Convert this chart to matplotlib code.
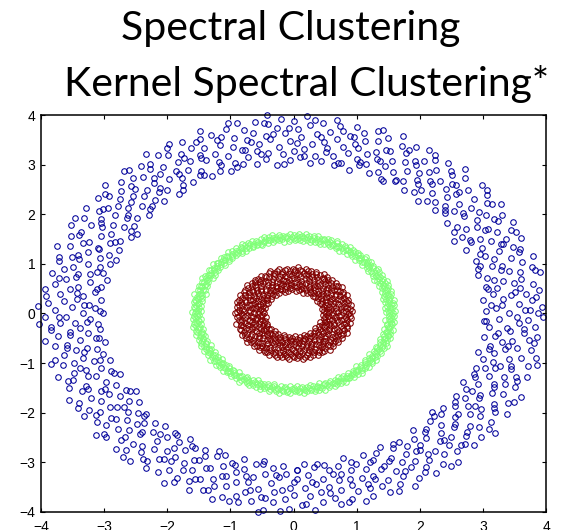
import numpy as np
import matplotlib
matplotlib.use("Agg")
import matplotlib.pyplot as plt

# --- data: (angle in degrees, radius) ---
outer_ring = [
    (0,3.42),(0,3.87),(1,3.05),(1,3.66),(2,3.21),(2,3.94),(3,3.13),(3,3.58),(4,3.79),(5,3.33),(5,3.01),(6,3.71),(6,3.47),(7,3.92),(7,3.18),(8,3.62),(9,3.27),(9,3.84),(10,3.09),(10,3.55),
    (11,3.38),(12,3.99),(12,3.24),(13,3.68),(13,3.15),(14,3.51),(14,3.89),(15,3.03),(16,3.44),(16,3.76),(17,3.29),(17,3.97),(18,3.11),(18,3.63),(19,3.36),(20,3.81),(20,3.07),(21,3.49),(21,3.73),(22,3.19),
    (23,3.57),(23,3.91),(24,3.26),(24,3.69),(25,3.02),(25,3.45),(26,3.83),(27,3.31),(27,3.61),(28,3.16),(28,3.93),(29,3.52),(30,3.74),(30,3.08),(31,3.39),(31,3.86),(32,3.22),(33,3.64),(33,3.47),(34,3.96),
    (34,3.12),(35,3.58),(36,3.34),(36,3.78),(37,3.04),(37,3.53),(38,3.88),(39,3.27),(39,3.67),(40,3.14),(40,3.43),(41,3.95),(42,3.23),(42,3.72),(43,3.06),(43,3.59),(44,3.37),(45,3.85),(45,3.17),(46,3.62),
    (46,3.48),(47,3.98),(48,3.28),(48,3.75),(49,3.01),(49,3.54),(50,3.41),(51,3.89),(51,3.21),(52,3.66),(52,3.1),(53,3.57),(54,3.33),(54,3.82),(55,3.05),(55,3.46),(56,3.71),(57,3.19),(57,3.94),(58,3.39),
    (58,3.63),(59,3.12),(60,3.52),(60,3.87),(61,3.25),(61,3.69),(62,3.03),(63,3.44),(63,3.79),(64,3.3),(64,3.97),(65,3.15),(66,3.6),(66,3.36),(67,3.84),(67,3.08),(68,3.5),(69,3.73),(69,3.22),(70,3.92),
    (70,3.41),(71,3.17),(72,3.65),(72,3.28),(73,3.81),(73,3.02),(74,3.55),(75,3.35),(75,3.9),(76,3.13),(76,3.68),(77,3.45),(78,3.77),(78,3.06),(79,3.58),(79,3.24),(80,3.96),(81,3.38),(81,3.7),(82,3.11),
    (82,3.49),(83,3.86),(84,3.2),(84,3.63),(85,3.04),(85,3.43),(86,3.8),(87,3.31),(87,3.99),(88,3.16),(88,3.56),(89,3.72),(90,3.27),(90,3.88),(91,3.09),(91,3.47),(92,3.64),(93,3.21),(93,3.93),(94,3.37),
    (94,3.75),(95,3.01),(96,3.53),(96,3.84),(97,3.26),(97,3.61),(98,3.14),(99,3.46),(99,3.91),(100,3.32),(100,3.69),(101,3.07),(102,3.57),(102,3.78),(103,3.23),(103,3.95),(104,3.4),(105,3.12),(105,3.66),(106,3.5),
    (106,3.87),(107,3.18),(108,3.74),(108,3.34),(109,3.03),(109,3.59),(110,3.82),(111,3.28),(111,3.45),(112,3.97),(112,3.1),(113,3.62),(114,3.39),(114,3.79),(115,3.05),(115,3.52),(116,3.71),(117,3.22),(117,3.89),(118,3.15),
    (118,3.48),(119,3.67),(120,3.33),(120,3.94),(121,3.08),(121,3.56),(122,3.76),(123,3.25),(123,3.43),(124,3.85),(124,3.13),(125,3.6),(126,3.36),(126,3.98),(127,3.02),(127,3.51),(128,3.7),(129,3.19),(129,3.83),(130,3.44),
    (130,3.29),(131,3.64),(132,3.06),(132,3.9),(133,3.41),(133,3.73),(134,3.17),(135,3.55),(135,3.35),(136,3.81),(136,3.11),(137,3.47),(138,3.68),(138,3.24),(139,3.96),(139,3.04),(140,3.58),(141,3.38),(141,3.77),(142,3.14),
    (142,3.52),(143,3.88),(144,3.27),(144,3.63),(145,3.09),(145,3.45),(146,3.71),(147,3.2),(147,3.92),(148,3.37),(148,3.59),(149,3.01),(150,3.5),(150,3.84),(151,3.31),(151,3.66),(152,3.12),(153,3.43),(153,3.95),(154,3.23),
    (154,3.75),(155,3.05),(156,3.54),(156,3.86),(157,3.34),(157,3.62),(158,3.16),(159,3.48),(159,3.79),(160,3.26),(160,3.99),(161,3.07),(162,3.57),(162,3.69),(163,3.21),(163,3.4),(164,3.87),(165,3.13),(165,3.61),(166,3.32),
    (166,3.74),(167,3.03),(168,3.53),(168,3.91),(169,3.29),(169,3.67),(170,3.1),(171,3.46),(171,3.82),(172,3.18),(172,3.58),(173,3.97),(174,3.36),(174,3.72),(175,3.06),(175,3.44),(176,3.64),(177,3.25),(177,3.89),(178,3.15),
    (178,3.51),(179,3.78),(180,3.33),(180,3.02),(181,3.6),(181,3.93),(182,3.22),(183,3.47),(183,3.7),(184,3.11),(184,3.85),(185,3.39),(186,3.56),(186,3.08),(187,3.76),(187,3.28),(188,3.98),(189,3.42),(189,3.17),(190,3.65),
    (190,3.83),(191,3.04),(192,3.52),(192,3.35),(193,3.73),(193,3.2),(194,3.9),(195,3.45),(195,3.13),(196,3.61),(196,3.8),(197,3.3),(198,3.05),(198,3.55),(199,3.68),(199,3.94),(200,3.24),(201,3.49),(201,3.75),(202,3.12),
    (202,3.38),(203,3.86),(204,3.59),(204,3.01),(205,3.27),(205,3.7),(206,3.96),(207,3.43),(207,3.16),(208,3.63),(208,3.84),(209,3.34),(210,3.07),(210,3.53),(211,3.78),(211,3.21),(212,3.91),(213,3.46),(213,3.66),(214,3.14),
    (214,3.37),(215,3.81),(216,3.57),(216,3.02),(217,3.29),(217,3.72),(218,3.97),(219,3.4),(219,3.18),(220,3.62),(220,3.87),(221,3.09),(222,3.5),(222,3.33),(223,3.74),(223,3.23),(224,3.92),(225,3.44),(225,3.11),(226,3.67),
    (226,3.82),(227,3.26),(228,3.04),(228,3.58),(229,3.69),(229,3.95),(230,3.36),(231,3.19),(231,3.51),(232,3.77),(232,3.06),(233,3.89),(234,3.42),(234,3.63),(235,3.15),(235,3.31),(236,3.85),(237,3.55),(237,3.02),(238,3.25),
    (238,3.71),(239,3.98),(240,3.47),(240,3.13),(241,3.6),(241,3.8),(242,3.35),(243,3.08),(243,3.54),(244,3.76),(244,3.2),(245,3.93),(246,3.41),(246,3.65),(247,3.12),(247,3.38),(248,3.83),(249,3.57),(249,3.05),(250,3.28),
    (250,3.7),(251,3.96),(252,3.45),(252,3.17),(253,3.64),(253,3.86),(254,3.32),(255,3.03),(255,3.52),(256,3.79),(256,3.22),(257,3.9),(258,3.48),(258,3.68),(259,3.1),(259,3.36),(260,3.84),(261,3.59),(261,3.01),(262,3.27),
    (262,3.73),(263,3.99),(264,3.43),(264,3.14),(265,3.61),(265,3.81),(266,3.3),(267,3.07),(267,3.56),(268,3.75),(268,3.24),(269,3.94),(270,3.4),(270,3.66),(271,3.16),(271,3.33),(272,3.87),(273,3.53),(273,3.04),(274,3.26),
    (274,3.69),(275,3.97),(276,3.46),(276,3.12),(277,3.62),(277,3.82),(278,3.37),(279,3.09),(279,3.55),(280,3.77),(280,3.21),(281,3.92),(282,3.44),(282,3.64),(283,3.15),(283,3.31),(284,3.85),(285,3.58),(285,3.02),(286,3.28),
    (286,3.72),(287,3.95),(288,3.49),(288,3.18),(289,3.63),(289,3.88),(290,3.34),(291,3.06),(291,3.51),(292,3.76),(292,3.23),(293,3.91),(294,3.42),(294,3.67),(295,3.11),(295,3.39),(296,3.83),(297,3.57),(297,3.03),(298,3.29),
    (298,3.71),(299,3.98),(300,3.45),(300,3.14),(301,3.6),(301,3.86),(302,3.35),(303,3.08),(303,3.54),(304,3.74),(304,3.22),(305,3.93),(306,3.41),(306,3.65),(307,3.17),(307,3.32),(308,3.84),(309,3.56),(309,3.01),(310,3.27),
    (310,3.7),(311,3.96),(312,3.47),(312,3.13),(313,3.62),(313,3.8),(314,3.36),(315,3.05),(315,3.52),(316,3.78),(316,3.24),(317,3.9),(318,3.43),(318,3.68),(319,3.1),(319,3.38),(320,3.87),(321,3.59),(321,3.04),(322,3.3),
    (322,3.73),(323,3.99),(324,3.46),(324,3.16),(325,3.61),(325,3.82),(326,3.33),(327,3.07),(327,3.55),(328,3.76),(328,3.2),(329,3.94),(330,3.4),(330,3.66),(331,3.12),(331,3.37),(332,3.85),(333,3.53),(333,3.02),(334,3.25),
    (334,3.69),(335,3.97),(336,3.48),(336,3.15),(337,3.64),(337,3.81),(338,3.34),(339,3.09),(339,3.57),(340,3.75),(340,3.23),(341,3.92),(342,3.44),(342,3.63),(343,3.14),(343,3.31),(344,3.86),(345,3.54),(345,3.03),(346,3.28),
    (346,3.71),(347,3.95),(348,3.42),(348,3.18),(349,3.6),(349,3.83),(350,3.35),(351,3.06),(351,3.5),(352,3.77),(352,3.22),(353,3.89),(354,3.45),(354,3.67),(355,3.11),(355,3.39),(356,3.84),(357,3.58),(357,3.05),(358,3.26),
    (358,3.72),(359,3.96),
    # second pass over the ring, the points between
    (1,3.74),(3,3.31),(5,3.86),(7,3.54),(9,3.12),(11,3.67),(13,3.93),(15,3.4),(17,3.06),(19,3.78),(21,3.25),(23,3.6),(25,3.89),(27,3.16),(29,3.47),(31,3.71),(33,3.03),(35,3.83),(37,3.36),(39,3.95),
    (41,3.19),(43,3.52),(45,3.65),(47,3.09),(49,3.8),(51,3.43),(53,3.28),(55,3.91),(57,3.57),(59,3.14),(61,3.76),(63,3.05),(65,3.62),(67,3.38),(69,3.97),(71,3.22),(73,3.49),(75,3.69),(77,3.11),(79,3.85),
    (81,3.3),(83,3.58),(85,3.92),(87,3.17),(89,3.44),(91,3.73),(93,3.02),(95,3.64),(97,3.87),(99,3.26),(101,3.53),(103,3.39),(105,3.98),(107,3.08),(109,3.7),(111,3.21),(113,3.81),(115,3.46),(117,3.13),(119,3.59),
    (121,3.9),(123,3.34),(125,3.04),(127,3.77),(129,3.51),(131,3.24),(133,3.94),(135,3.63),(137,3.1),(139,3.42),(141,3.84),(143,3.29),(145,3.68),(147,3.07),(149,3.55),(151,3.96),(153,3.18),(155,3.75),(157,3.37),(159,3.01),
    (161,3.61),(163,3.88),(165,3.23),(167,3.5),(169,3.79),(171,3.15),(173,3.45),(175,3.93),(177,3.32),(179,3.06),(181,3.72),(183,3.27),(185,3.86),(187,3.56),(189,3.12),(191,3.66),(193,3.41),(195,3.97),(197,3.2),(199,3.48),
    (201,3.82),(203,3.09),(205,3.6),(207,3.35),(209,3.91),(211,3.03),(213,3.74),(215,3.28),(217,3.53),(219,3.87),(221,3.14),(223,3.65),(225,3.39),(227,3.95),(229,3.22),(231,3.78),(233,3.06),(235,3.57),(237,3.44),(239,3.11),
    (241,3.89),(243,3.31),(245,3.68),(247,3.02),(249,3.8),(251,3.47),(253,3.19),(255,3.92),(257,3.36),(259,3.62),(261,3.08),(263,3.75),(265,3.26),(267,3.98),(269,3.52),(271,3.15),(273,3.84),(275,3.4),(277,3.05),(279,3.67),
    (281,3.29),(283,3.9),(285,3.45),(287,3.13),(289,3.71),(291,3.58),(293,3.21),(295,3.94),(297,3.33),(299,3.63),(301,3.07),(303,3.82),(305,3.38),(307,3.55),(309,3.96),(311,3.17),(313,3.49),(315,3.76),(317,3.04),(319,3.64),
    (321,3.3),(323,3.88),(325,3.12),(327,3.43),(329,3.7),(331,3.24),(333,3.92),(335,3.5),(337,3.1),(339,3.79),(341,3.37),(343,3.61),(345,3.99),(347,3.18),(349,3.46),(351,3.85),(353,3.27),(355,3.66),(357,3.02),(359,3.54),
    (178,4.05),(183,4.03),(96,4.02),(262,4.04),(30,2.93),(147,2.95),(212,2.94),(318,2.96),
]

middle_ring = [
    (0,1.52),(0,1.58),(1,1.47),(2,1.55),(2,1.61),(3,1.5),(4,1.57),(4,1.46),(5,1.53),(6,1.6),(6,1.49),(7,1.56),(8,1.51),(8,1.59),(9,1.47),(10,1.54),(10,1.62),(11,1.5),(12,1.57),(12,1.45),
    (13,1.53),(14,1.59),(14,1.48),(15,1.55),(16,1.51),(16,1.61),(17,1.47),(18,1.56),(18,1.52),(19,1.58),(20,1.49),(20,1.54),(21,1.6),(22,1.46),(22,1.53),(23,1.57),(24,1.5),(24,1.62),(25,1.55),(26,1.48),
    (26,1.58),(27,1.52),(28,1.56),(28,1.45),(29,1.6),(30,1.51),(30,1.54),(31,1.47),(32,1.59),(32,1.53),(33,1.49),(34,1.57),(34,1.61),(35,1.5),(36,1.55),(36,1.46),(37,1.58),(38,1.52),(38,1.48),(39,1.56),
    (40,1.6),(40,1.51),(41,1.54),(42,1.47),(42,1.59),(43,1.53),(44,1.5),(44,1.57),(45,1.62),(46,1.49),(46,1.55),(47,1.52),(48,1.58),(48,1.46),(49,1.56),(50,1.51),(50,1.6),(51,1.48),(52,1.54),(52,1.57),
    (53,1.5),(54,1.59),(54,1.53),(55,1.47),(56,1.55),(56,1.61),(57,1.52),(58,1.49),(58,1.56),(59,1.58),(60,1.45),(60,1.53),(61,1.6),(62,1.51),(62,1.55),(63,1.48),(64,1.57),(64,1.52),(65,1.62),(66,1.5),
    (66,1.54),(67,1.47),(68,1.59),(68,1.56),(69,1.51),(70,1.53),(70,1.6),(71,1.49),(72,1.55),(72,1.58),(73,1.46),(74,1.52),(74,1.57),(75,1.5),(76,1.61),(76,1.54),(77,1.48),(78,1.56),(78,1.59),(79,1.51),
    (80,1.53),(80,1.47),(81,1.58),(82,1.55),(82,1.5),(83,1.62),(84,1.52),(84,1.46),(85,1.57),(86,1.54),(86,1.49),(87,1.6),(88,1.51),(88,1.56),(89,1.48),(90,1.53),(90,1.59),(91,1.55),(92,1.5),(92,1.61),
    (93,1.47),(94,1.57),(94,1.52),(95,1.54),(96,1.58),(96,1.45),(97,1.51),(98,1.56),(98,1.6),(99,1.49),(100,1.53),(100,1.57),(101,1.5),(102,1.62),(102,1.55),(103,1.48),(104,1.52),(104,1.59),(105,1.54),(106,1.47),
    (106,1.56),(107,1.61),(108,1.51),(108,1.53),(109,1.58),(110,1.5),(110,1.46),(111,1.55),(112,1.57),(112,1.52),(113,1.49),(114,1.6),(114,1.54),(115,1.51),(116,1.56),(116,1.48),(117,1.59),(118,1.53),(118,1.5),(119,1.57),
    (120,1.62),(120,1.52),(121,1.47),(122,1.55),(122,1.58),(123,1.51),(124,1.54),(124,1.46),(125,1.6),(126,1.5),(126,1.56),(127,1.53),(128,1.49),(128,1.59),(129,1.55),(130,1.52),(130,1.61),(131,1.48),(132,1.57),(132,1.54),
    (133,1.51),(134,1.58),(134,1.47),(135,1.53),(136,1.56),(136,1.6),(137,1.5),(138,1.55),(138,1.45),(139,1.52),(140,1.59),(140,1.57),(141,1.49),(142,1.54),(142,1.62),(143,1.51),(144,1.56),(144,1.48),(145,1.53),(146,1.58),
    (146,1.5),(147,1.6),(148,1.55),(148,1.47),(149,1.52),(150,1.57),(150,1.54),(151,1.46),(152,1.59),(152,1.51),(153,1.56),(154,1.53),(154,1.61),(155,1.49),(156,1.55),(156,1.58),(157,1.5),(158,1.52),(158,1.47),(159,1.57),
    (160,1.54),(160,1.6),(161,1.48),(162,1.56),(162,1.51),(163,1.59),(164,1.53),(164,1.45),(165,1.55),(166,1.62),(166,1.5),(167,1.52),(168,1.57),(168,1.49),(169,1.54),(170,1.58),(170,1.47),(171,1.56),(172,1.51),(172,1.6),
    (173,1.53),(174,1.48),(174,1.55),(175,1.59),(176,1.5),(176,1.57),(177,1.52),(178,1.46),(178,1.54),(179,1.61),(180,1.51),(180,1.56),(181,1.49),(182,1.58),(182,1.53),(183,1.55),(184,1.47),(184,1.6),(185,1.52),(186,1.57),
    (186,1.5),(187,1.54),(188,1.59),(188,1.48),(189,1.56),(190,1.51),(190,1.62),(191,1.53),(192,1.46),(192,1.55),(193,1.58),(194,1.5),(194,1.57),(195,1.52),(196,1.49),(196,1.6),(197,1.54),(198,1.56),(198,1.47),(199,1.51),
    (200,1.59),(200,1.53),(201,1.55),(202,1.48),(202,1.58),(203,1.5),(204,1.61),(204,1.52),(205,1.57),(206,1.45),(206,1.54),(207,1.56),(208,1.51),(208,1.6),(209,1.49),(210,1.53),(210,1.57),(211,1.55),(212,1.47),(212,1.59),
    (213,1.52),(214,1.5),(214,1.56),(215,1.62),(216,1.54),(216,1.48),(217,1.58),(218,1.51),(218,1.55),(219,1.46),(220,1.53),(220,1.6),(221,1.57),(222,1.5),(222,1.52),(223,1.59),(224,1.49),(224,1.56),(225,1.54),(226,1.61),
    (226,1.47),(227,1.51),(228,1.55),(228,1.58),(229,1.53),(230,1.48),(230,1.57),(231,1.5),(232,1.6),(232,1.52),(233,1.56),(234,1.46),(234,1.54),(235,1.59),(236,1.51),(236,1.55),(237,1.49),(238,1.57),(238,1.62),(239,1.53),
    (240,1.5),(240,1.47),(241,1.56),(242,1.58),(242,1.52),(243,1.54),(244,1.48),(244,1.6),(245,1.55),(246,1.51),(246,1.57),(247,1.45),(248,1.53),(248,1.59),(249,1.5),(250,1.56),(250,1.52),(251,1.61),(252,1.49),(252,1.54),
    (253,1.58),(254,1.47),(254,1.55),(255,1.51),(256,1.57),(256,1.6),(257,1.53),(258,1.5),(258,1.46),(259,1.56),(260,1.59),(260,1.52),(261,1.54),(262,1.48),(262,1.62),(263,1.55),(264,1.51),(264,1.57),(265,1.49),(266,1.53),
    (266,1.58),(267,1.56),(268,1.47),(268,1.6),(269,1.52),(270,1.5),(270,1.55),(271,1.57),(272,1.54),(272,1.46),(273,1.59),(274,1.51),(274,1.56),(275,1.48),(276,1.53),(276,1.61),(277,1.55),(278,1.5),(278,1.58),(279,1.52),
    (280,1.47),(280,1.57),(281,1.54),(282,1.6),(282,1.49),(283,1.56),(284,1.51),(284,1.53),(285,1.59),(286,1.45),(286,1.55),(287,1.57),(288,1.52),(288,1.62),(289,1.5),(290,1.54),(290,1.48),(291,1.58),(292,1.56),(292,1.51),
    (293,1.47),(294,1.53),(294,1.6),(295,1.55),(296,1.49),(296,1.57),(297,1.52),(298,1.59),(298,1.54),(299,1.46),(300,1.56),(300,1.5),(301,1.61),(302,1.53),(302,1.48),(303,1.55),(304,1.58),(304,1.51),(305,1.57),(306,1.47),
    (306,1.54),(307,1.6),(308,1.52),(308,1.56),(309,1.49),(310,1.55),(310,1.59),(311,1.5),(312,1.53),(312,1.62),(313,1.46),(314,1.57),(314,1.51),(315,1.54),(316,1.58),(316,1.48),(317,1.56),(318,1.52),(318,1.6),(319,1.5),
    (320,1.55),(320,1.47),(321,1.59),(322,1.53),(322,1.57),(323,1.49),(324,1.54),(324,1.61),(325,1.51),(326,1.56),(326,1.45),(327,1.58),(328,1.52),(328,1.55),(329,1.48),(330,1.6),(330,1.53),(331,1.57),(332,1.5),(332,1.54),
    (333,1.47),(334,1.59),(334,1.56),(335,1.51),(336,1.55),(336,1.62),(337,1.49),(338,1.53),(338,1.58),(339,1.46),(340,1.57),(340,1.52),(341,1.54),(342,1.6),(342,1.5),(343,1.56),(344,1.48),(344,1.55),(345,1.59),(346,1.51),
    (346,1.53),(347,1.57),(348,1.47),(348,1.61),(349,1.54),(350,1.52),(350,1.56),(351,1.5),(352,1.58),(352,1.49),(353,1.55),(354,1.53),(354,1.6),(355,1.46),(356,1.57),(356,1.52),(357,1.54),(358,1.59),(358,1.51),(359,1.56),
]

inner_ring = [
    (0,0.62),(0,0.88),(1,0.51),(2,0.79),(2,0.71),(3,0.93),(4,0.56),(4,0.84),(5,0.67),(6,0.48),(6,0.9),(7,0.75),(8,0.6),(8,0.86),(9,0.53),(10,0.81),(10,0.69),(11,0.92),(12,0.46),(12,0.77),
    (13,0.64),(14,0.89),(14,0.58),(15,0.83),(16,0.73),(16,0.5),(17,0.87),(18,0.66),(18,0.91),(19,0.55),(20,0.8),(20,0.7),(21,0.85),(22,0.49),(22,0.76),(23,0.63),(24,0.92),(24,0.57),(25,0.82),(26,0.68),
    (26,0.47),(27,0.88),(28,0.74),(28,0.59),(29,0.9),(30,0.52),(30,0.78),(31,0.65),(32,0.86),(32,0.61),(33,0.45),(34,0.83),(34,0.72),(35,0.93),(36,0.54),(36,0.79),(37,0.67),(38,0.89),(38,0.5),(39,0.76),
    (40,0.62),(40,0.87),(41,0.57),(42,0.81),(42,0.7),(43,0.91),(44,0.48),(44,0.75),(45,0.64),(46,0.85),(46,0.55),(47,0.8),(48,0.69),(48,0.92),(49,0.46),(50,0.77),(50,0.6),(51,0.88),(52,0.53),(52,0.82),
    (53,0.71),(54,0.9),(54,0.58),(55,0.84),(56,0.66),(56,0.49),(57,0.86),(58,0.73),(58,0.62),(59,0.93),(60,0.51),(60,0.78),(61,0.68),(62,0.89),(62,0.56),(63,0.83),(64,0.47),(64,0.74),(65,0.63),(66,0.87),
    (66,0.59),(67,0.91),(68,0.52),(68,0.8),(69,0.7),(70,0.85),(70,0.45),(71,0.76),(72,0.65),(72,0.9),(73,0.54),(74,0.82),(74,0.72),(75,0.88),(76,0.5),(76,0.79),(77,0.61),(78,0.92),(78,0.57),(79,0.84),
    (80,0.67),(80,0.48),(81,0.86),(82,0.75),(82,0.6),(83,0.89),(84,0.53),(84,0.81),(85,0.69),(86,0.93),(86,0.46),(87,0.77),(88,0.64),(88,0.87),(89,0.55),(90,0.83),(90,0.71),(91,0.9),(92,0.49),(92,0.78),
    (93,0.62),(94,0.85),(94,0.58),(95,0.8),(96,0.68),(96,0.51),(97,0.91),(98,0.74),(98,0.63),(99,0.88),(100,0.47),(100,0.76),(101,0.66),(102,0.86),(102,0.56),(103,0.82),(104,0.7),(104,0.92),(105,0.52),(106,0.79),
    (106,0.61),(107,0.89),(108,0.45),(108,0.73),(109,0.65),(110,0.84),(110,0.59),(111,0.87),(112,0.5),(112,0.81),(113,0.69),(114,0.93),(114,0.54),(115,0.77),(116,0.62),(116,0.9),(117,0.57),(118,0.83),(118,0.72),(119,0.48),
    (120,0.86),(120,0.67),(121,0.88),(122,0.53),(122,0.75),(123,0.64),(124,0.91),(124,0.58),(125,0.8),(126,0.7),(126,0.46),(127,0.85),(128,0.78),(128,0.6),(129,0.89),(130,0.51),(130,0.82),(131,0.66),(132,0.92),(132,0.55),
    (133,0.76),(134,0.63),(134,0.87),(135,0.49),(136,0.84),(136,0.71),(137,0.9),(138,0.56),(138,0.79),(139,0.68),(140,0.86),(140,0.47),(141,0.74),(142,0.61),(142,0.93),(143,0.52),(144,0.81),(144,0.69),(145,0.88),(146,0.57),
    (146,0.77),(147,0.65),(148,0.91),(148,0.5),(149,0.83),(150,0.72),(150,0.59),(151,0.89),(152,0.45),(152,0.78),(153,0.67),(154,0.85),(154,0.54),(155,0.8),(156,0.62),(156,0.92),(157,0.48),(158,0.75),(158,0.7),(159,0.87),
    (160,0.56),(160,0.82),(161,0.64),(162,0.9),(162,0.51),(163,0.79),(164,0.68),(164,0.86),(165,0.58),(166,0.73),(166,0.93),(167,0.46),(168,0.84),(168,0.63),(169,0.88),(170,0.53),(170,0.76),(171,0.66),(172,0.91),(172,0.6),
    (173,0.81),(174,0.49),(174,0.71),(175,0.87),(176,0.55),(176,0.78),(177,0.69),(178,0.89),(178,0.47),(179,0.83),(180,0.62),(180,0.92),(181,0.57),(182,0.8),(182,0.74),(183,0.86),(184,0.5),(184,0.67),(185,0.9),(186,0.54),
    (186,0.77),(187,0.65),(188,0.88),(188,0.59),(189,0.82),(190,0.7),(190,0.45),(191,0.85),(192,0.72),(192,0.61),(193,0.93),(194,0.52),(194,0.79),(195,0.68),(196,0.87),(196,0.56),(197,0.83),(198,0.48),(198,0.75),(199,0.64),
    (200,0.91),(200,0.58),(201,0.8),(202,0.71),(202,0.89),(203,0.51),(204,0.77),(204,0.66),(205,0.86),(206,0.46),(206,0.73),(207,0.62),(208,0.92),(208,0.55),(209,0.84),(210,0.69),(210,0.88),(211,0.49),(212,0.78),(212,0.6),
    (213,0.9),(214,0.53),(214,0.81),(215,0.67),(216,0.87),(216,0.57),(217,0.76),(218,0.63),(218,0.93),(219,0.5),(220,0.83),(220,0.72),(221,0.89),(222,0.47),(222,0.74),(223,0.65),(224,0.86),(224,0.59),(225,0.8),(226,0.7),
    (226,0.91),(227,0.54),(228,0.79),(228,0.61),(229,0.88),(230,0.45),(230,0.77),(231,0.68),(232,0.85),(232,0.56),(233,0.82),(234,0.64),(234,0.92),(235,0.51),(236,0.75),(236,0.71),(237,0.87),(238,0.58),(238,0.83),(239,0.66),
    (240,0.9),(240,0.48),(241,0.78),(242,0.62),(242,0.89),(243,0.55),(244,0.81),(244,0.69),(245,0.93),(246,0.52),(246,0.76),(247,0.63),(248,0.86),(248,0.57),(249,0.84),(250,0.73),(250,0.46),(251,0.88),(252,0.67),(252,0.6),
    (253,0.91),(254,0.5),(254,0.8),(255,0.7),(256,0.87),(256,0.54),(257,0.77),(258,0.65),(258,0.9),(259,0.58),(260,0.83),(260,0.72),(261,0.47),(262,0.85),(262,0.68),(263,0.89),(264,0.53),(264,0.79),(265,0.61),(266,0.92),
    (266,0.56),(267,0.82),(268,0.71),(268,0.49),(269,0.86),(270,0.74),(270,0.62),(271,0.88),(272,0.45),(272,0.78),(273,0.66),(274,0.9),(274,0.57),(275,0.84),(276,0.69),(276,0.51),(277,0.87),(278,0.76),(278,0.6),(279,0.93),
    (280,0.54),(280,0.81),(281,0.67),(282,0.89),(282,0.48),(283,0.75),(284,0.63),(284,0.86),(285,0.58),(286,0.82),(286,0.7),(287,0.91),(288,0.52),(288,0.77),(289,0.64),(290,0.88),(290,0.55),(291,0.8),(292,0.73),(292,0.46),
    (293,0.85),(294,0.68),(294,0.6),(295,0.92),(296,0.5),(296,0.79),(297,0.66),(298,0.87),(298,0.57),(299,0.83),(300,0.71),(300,0.9),(301,0.53),(302,0.76),(302,0.62),(303,0.89),(304,0.47),(304,0.81),(305,0.69),(306,0.86),
    (306,0.56),(307,0.78),(308,0.65),(308,0.93),(309,0.51),(310,0.84),(310,0.72),(311,0.88),(312,0.59),(312,0.75),(313,0.63),(314,0.91),(314,0.49),(315,0.82),(316,0.7),(316,0.87),(317,0.54),(318,0.79),(318,0.67),(319,0.45),
    (320,0.85),(320,0.61),(321,0.9),(322,0.58),(322,0.77),(323,0.68),(324,0.88),(324,0.52),(325,0.8),(326,0.74),(326,0.62),(327,0.92),(328,0.48),(328,0.83),(329,0.66),(330,0.86),(330,0.55),(331,0.78),(332,0.64),(332,0.89),
    (333,0.5),(334,0.81),(334,0.71),(335,0.93),(336,0.57),(336,0.76),(337,0.65),(338,0.87),(338,0.46),(339,0.84),(340,0.69),(340,0.6),(341,0.9),(342,0.53),(342,0.79),(343,0.67),(344,0.88),(344,0.56),(345,0.82),(346,0.73),
    (346,0.49),(347,0.85),(348,0.63),(348,0.91),(349,0.58),(350,0.77),(350,0.7),(351,0.86),(352,0.51),(352,0.8),(353,0.66),(354,0.92),(354,0.55),(355,0.83),(356,0.72),(356,0.47),(357,0.89),(358,0.61),(358,0.75),(359,0.87),
]

ring_colors = ['#00009a', '#80ff78', '#800000']
ticks = [-4, -3, -2, -1, 0, 1, 2, 3, 4]
title_lines = ['Spectral Clustering', 'Kernel Spectral Clustering*']


def to_xy(pts):
    a = np.radians([p[0] for p in pts])
    r = np.array([p[1] for p in pts])
    return r * np.cos(a), r * np.sin(a)


fig = plt.figure(figsize=(5.69, 5.30), dpi=100)
ax = fig.add_axes([0.0721, 0.034, 0.8875, 0.749])

for pts, col in zip([outer_ring, middle_ring, inner_ring], ring_colors):
    x, y = to_xy(pts)
    ax.plot(x, y, 'o', ms=4, mfc='none', mec=col, mew=0.75, clip_on=False)

ax.set_xlim(-4, 4)
ax.set_ylim(-4, 4)
ax.set_xticks(ticks)
ax.set_yticks(ticks)
ax.tick_params(direction='in', length=3, width=0.8, top=True, right=True,
               labelsize=10, colors='black')
ax.tick_params(axis='x', pad=6)
ax.tick_params(axis='y', pad=4)
for s in ax.spines.values():
    s.set_linewidth(1.1)
    s.set_color('black')
for lab in ax.get_xticklabels() + ax.get_yticklabels():
    lab.set_family(['Liberation Sans', 'DejaVu Sans'])

# two-line title, placed like the slide text
fig.text(291 / 569, 1 - 40 / 530, title_lines[0], ha='center', va='baseline',
         fontsize=29.5, family=['Lato', 'DejaVu Sans'])
fig.text(307 / 569, 1 - 96 / 530, title_lines[1], ha='center', va='baseline',
         fontsize=29.5, family=['Lato', 'DejaVu Sans'])

fig.savefig('out.png', dpi=100)
